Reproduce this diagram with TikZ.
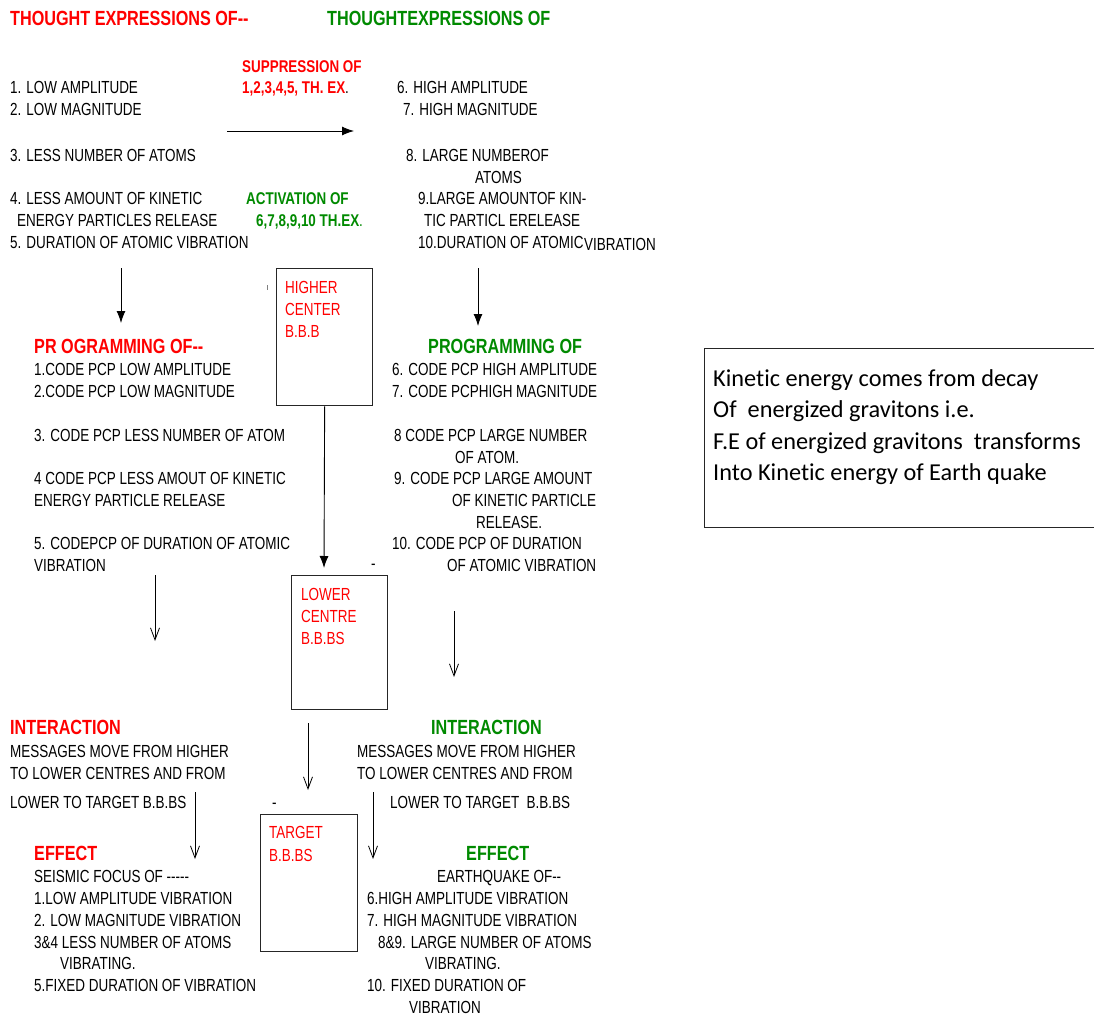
\documentclass[tikz,border=0pt]{standalone}
\usepackage{fontspec}
\setmainfont{Liberation Sans}
\newfontfamily\ar[FakeStretch=0.77]{Liberation Sans}
\newfontfamily\arb[FakeStretch=0.79]{Liberation Sans}
\newfontfamily\carl[Ligatures=NoCommon]{Carlito}
\usetikzlibrary{arrows.meta}
\definecolor{rd}{RGB}{255,0,0}
\definecolor{gr}{RGB}{0,138,0}
\begin{document}
\begin{tikzpicture}[x=1pt,y=-1pt,
 t/.style={anchor=base west, inner sep=0pt, yshift=-6.2pt, font=\ar\fontsize{17.5}{20}\selectfont},
 hd/.style={anchor=base west, inner sep=0pt, yshift=-7.3pt, font=\arb\bfseries\fontsize{20.5}{23}\selectfont},
 sh/.style={anchor=base west, inner sep=0pt, yshift=-6.2pt, font=\arb\bfseries\fontsize{17}{20}\selectfont},
 cb/.style={anchor=base west, inner sep=0pt, font=\carl\fontsize{24.3}{30}\selectfont},
 box/.style={draw=black!85, line width=1.3pt, anchor=north west, inner sep=0pt},
 fa/.style={line width=0.9pt, -{Latex[length=12pt,width=9pt]}},
 oa/.style={line width=0.8pt, -{Straight Barb[length=12pt,width=9pt]}},
]
\clip (0,0) rectangle (1094,1016);
\fill[white] (0,0) rectangle (1094,1016);

% ---- top section
\node[hd, text=rd] (h1) at (10,18) {THOUGHT EXPRESSIONS OF-{}-};
\node[hd, text=gr] (h2) at (327,18) {THOUGHTEXPRESSIONS OF};
\node[sh, text=rd] (s1) at (242,66) {SUPPRESSION OF};
\node[sh, text=rd] (s2) at (242,87) {1,2,3,4,5, TH. EX{\color{black}\mdseries .}};
\node[t] (l1) at (10,87) {1. LOW AMPLITUDE};
\node[t] (l2) at (10,109) {2. LOW MAGNITUDE};
\node[t] (l3) at (10,155) {3. LESS NUMBER OF ATOMS};
\node[t] (l4) at (10,198) {4. LESS AMOUNT OF KINETIC};
\node[t] (l4b) at (17,220) {ENERGY PARTICLES RELEASE};
\node[t] (l5) at (10,242) {5. DURATION OF ATOMIC VIBRATION};
\node[sh, text=gr] (a1) at (246,198) {ACTIVATION OF};
\node[sh, text=gr] (a2) at (256,220) {6,7,8,9,10 TH.EX{\mdseries .}};
\node[t] (r1) at (397,87) {6. HIGH AMPLITUDE};
\node[t] (r2) at (403,109) {7. HIGH MAGNITUDE};
\node[t] (r3) at (406,155) {8. LARGE NUMBEROF};
\node[t] (r3b) at (475,177) {ATOMS};
\node[t] (r4) at (418,198) {9.LARGE AMOUNTOF KIN-};
\node[t] (r4b) at (424,220) {TIC PARTICL ERELEASE};
\node[t] (r5) at (418,242) {10.DURATION OF ATOMIC};
\node[t] (r5b) at (584,244) {VIBRATION};

\coordinate (a1s) at (227,131);
\coordinate (a1e) at (354,131);
\draw[fa] (a1s) -- (a1e);
\coordinate (dl1) at (121,268);
\coordinate (dl2) at (121,323);
\draw[fa] (dl1) -- (dl2);
\coordinate (dr1) at (478,268);
\coordinate (dr2) at (478,326);
\draw[fa] (dr1) -- (dr2);

% ---- higher centre
\node[box, minimum width=96pt, minimum height=137pt] (hc) at (276,268) {};
\node[t, text=rd] (hc1) at (285,287) {HIGHER};
\node[t, text=rd] (hc2) at (285,309) {CENTER};
\node[t, text=rd] (hc3) at (285,331) {B.B.B};
\coordinate (tk1) at (267,285);
\coordinate (tk2) at (267,290);
\draw[gray, line width=1pt] (tk1) -- (tk2);

% ---- programming
\node[hd, text=rd] (p0) at (34,346) {PR OGRAMMING OF-{}-};
\node[t] (p1) at (34,369) {1.CODE PCP LOW AMPLITUDE};
\node[t] (p2) at (34,391) {2.CODE PCP LOW MAGNITUDE};
\node[t] (p3) at (34,435) {3. CODE PCP LESS NUMBER OF ATOM};
\node[t] (p4) at (34,478) {4 CODE PCP LESS AMOUT OF KINETIC};
\node[t] (p4b) at (34,500) {ENERGY PARTICLE RELEASE};
\node[t] (p5) at (34,543) {5. CODEPCP OF DURATION OF ATOMIC};
\node[t] (p5b) at (34,565) {VIBRATION};
\node[hd, text=gr] (q0) at (428,346) {PROGRAMMING OF};
\node[t] (q1) at (392,369) {6. CODE PCP HIGH AMPLITUDE};
\node[t] (q2) at (392,391) {7. CODE PCPHIGH MAGNITUDE};
\node[t] (q3) at (394,435) {8 CODE PCP LARGE NUMBER};
\node[t] (q3b) at (455,457) {OF ATOM.};
\node[t] (q4) at (394,478) {9. CODE PCP LARGE AMOUNT};
\node[t] (q4b) at (452,500) {OF KINETIC PARTICLE};
\node[t] (q4c) at (476,522) {RELEASE.};
\node[t] (q5) at (392,543) {10. CODE PCP OF DURATION};
\node[t] (q5b) at (447,565) {OF ATOMIC VIBRATION};
\node[t] (m1) at (371,563) {-};

% ---- lower centre
\node[box, minimum width=96pt, minimum height=134pt] (lc) at (291,575) {};
\node[t, text=rd] (lc1) at (301,594) {LOWER};
\node[t, text=rd] (lc2) at (301,616) {CENTRE};
\node[t, text=rd] (lc3) at (301,638) {B.B.BS};
\coordinate (lcin) at (324,568);
\draw[fa] (hc.south) -- (lcin);

\coordinate (ol1) at (155,575);
\coordinate (ol2) at (155,641);
\draw[oa] (ol1) -- (ol2);
\coordinate (or1) at (454,611);
\coordinate (or2) at (454,677);
\draw[oa] (or1) -- (or2);

% ---- interaction
\node[hd, text=rd] (i0) at (10,727) {INTERACTION};
\node[t] (i1) at (10,751) {MESSAGES MOVE FROM HIGHER};
\node[t] (i2) at (10,773) {TO LOWER CENTRES AND FROM};
\node[t] (i3) at (10,802) {LOWER TO TARGET B.B.BS};
\node[hd, text=gr] (j0) at (431,727) {INTERACTION};
\node[t] (j1) at (357,751) {MESSAGES MOVE FROM HIGHER};
\node[t] (j2) at (357,773) {TO LOWER CENTRES AND FROM};
\node[t] (j3) at (390,802) {LOWER TO TARGET\ \ B.B.BS};
\node[t] (m2) at (272,802) {-};

\coordinate (oc1) at (308,723);
\coordinate (oc2) at (308,790);
\draw[oa] (oc1) -- (oc2);
\coordinate (ob1) at (195,792);
\coordinate (ob2) at (195,859);
\draw[oa] (ob1) -- (ob2);
\coordinate (od1) at (373,792);
\coordinate (od2) at (373,859);
\draw[oa] (od1) -- (od2);

% ---- target
\node[box, minimum width=97pt, minimum height=137pt] (tg) at (260,814) {};
\node[t, text=rd] (tg1) at (269,832) {TARGET};
\node[t, text=rd] (tg2) at (269,855) {B.B.BS};

% ---- effect
\node[hd, text=rd] (e0) at (34,853) {EFFECT};
\node[t] (e1) at (34,876) {SEISMIC FOCUS OF -{}-{}-{}-{}-};
\node[t] (e2) at (34,898) {1.LOW AMPLITUDE VIBRATION};
\node[t] (e3) at (34,920) {2. LOW MAGNITUDE VIBRATION};
\node[t] (e4) at (34,942) {3\&4 LESS NUMBER OF ATOMS};
\node[t] (e4b) at (60,963) {VIBRATING.};
\node[t] (e5) at (34,985) {5.FIXED DURATION OF VIBRATION};
\node[hd, text=gr] (f0) at (466,853) {EFFECT};
\node[t] (f1) at (437,876) {EARTHQUAKE OF-{}-};
\node[t] (f2) at (367,898) {6.HIGH AMPLITUDE VIBRATION};
\node[t] (f3) at (367,920) {7. HIGH MAGNITUDE VIBRATION};
\node[t] (f4) at (378,942) {8\&9. LARGE NUMBER OF ATOMS};
\node[t] (f4b) at (425,963) {VIBRATING.};
\node[t] (f5) at (367,985) {10. FIXED DURATION OF};
\node[t] (f5b) at (409,1007) {VIBRATION};

% ---- note box
\node[draw=black!85, line width=1pt, anchor=north west, inner sep=0pt,
      minimum width=420pt, minimum height=179pt] (nb) at (704,348) {};
\node[cb] (n1) at (713,386) {Kinetic energy comes from decay};
\node[cb] (n2) at (713,417.5) {Of\ \ energized gravitons i.e.};
\node[cb] (n3) at (713,449) {F.E of energized gravitons\ \ transforms};
\node[cb] (n4) at (713,480.5) {Into Kinetic energy of Earth quake};
\end{tikzpicture}
\end{document}
